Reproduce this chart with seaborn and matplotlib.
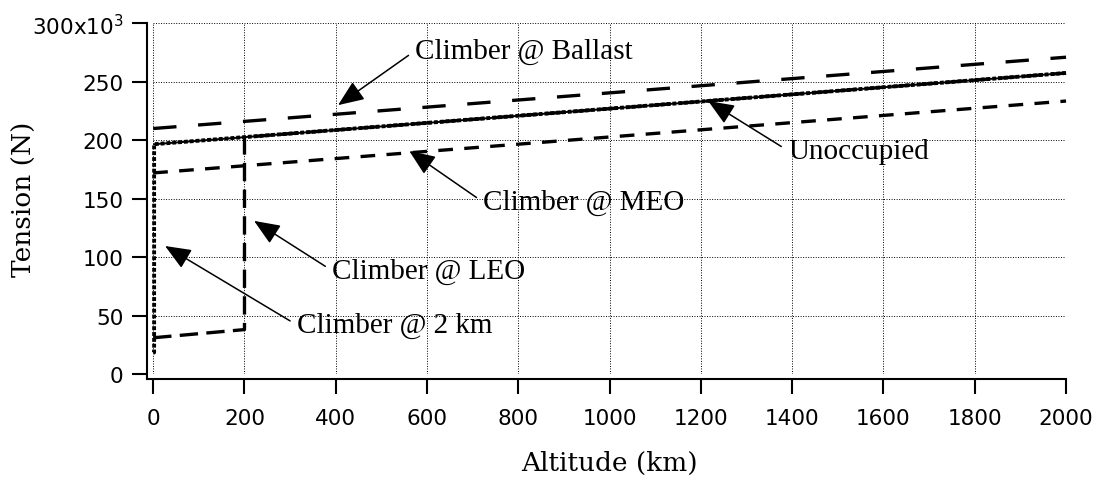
import matplotlib
matplotlib.use("Agg")
import matplotlib.pyplot as plt
import seaborn as sns

# Tether tension profiles: altitude (km) vs tension (x10^3 N)
unoccupied_alt = [0, 2000]
unoccupied_tension = [196.5, 257.5]

ballast_alt = [0, 2000]
ballast_tension = [210, 271]

meo_alt = [0, 2000]
meo_tension = [172, 233.5]

leo_alt = [0, 200, 200, 2000]
leo_tension = [31, 38, 202.6, 257.5]

km2_alt = [0, 2, 2, 2000]
km2_tension = [18, 18.5, 196.6, 257.5]

x_ticks = [0, 200, 400, 600, 800, 1000, 1200, 1400, 1600, 1800, 2000]
y_ticks = [0, 50, 100, 150, 200, 250, 300]
y_tick_labels = ["0", "50", "100", "150", "200", "250", r"300x10$^{3}$"]

sns.set_style("ticks")
plt.rcParams["font.family"] = ["DejaVu Sans"]
plt.rcParams["mathtext.fontset"] = "dejavusans"
plt.rcParams["text.color"] = "black"
plt.rcParams["axes.labelcolor"] = "black"
plt.rcParams["lines.scale_dashes"] = True

fig = plt.figure(figsize=(11.03, 4.89), dpi=100)
ax = fig.add_axes([0.1389, 0.2331, 0.9665 - 0.1389, 0.9503 - 0.2331])

LW = 2.4


def draw(alt, tension, lw, ls):
    n_before = len(ax.lines)
    sns.lineplot(x=alt, y=tension, ax=ax, color="black", linewidth=lw,
                 sort=False, estimator=None)
    for line in ax.lines[n_before:]:
        line.set_linewidth(lw)
        line.set_linestyle(ls)
        line.set_dash_capstyle("butt")
        line.set_solid_capstyle("butt")
        line.set_clip_on(False)
        line.set_zorder(3)


draw(ballast_alt, ballast_tension, LW, (0, (7.0, 6.5)))
draw(meo_alt, meo_tension, LW, (0, (4.4, 3.4)))
draw(leo_alt, leo_tension, LW, (0, (5.5, 2.5)))
draw(km2_alt, km2_tension, 2.8, (0, (1.0, 0.5)))
draw(unoccupied_alt, unoccupied_tension, 1.4, "-")

ax.set_xlim(0, 2000)
ax.set_ylim(0, 300)
ax.set_xticks(x_ticks)
ax.set_yticks(y_ticks)
ax.set_yticklabels(y_tick_labels)

ax.grid(True, color="black", linestyle=(0, (1, 1.6)), linewidth=0.7, zorder=0)
ax.set_axisbelow(True)

for side in ("top", "right"):
    ax.spines[side].set_visible(False)
ax.spines["left"].set_position(("outward", 4.5))
ax.spines["bottom"].set_position(("outward", 3.6))
ax.spines["left"].set_bounds(-4.3, 300)
ax.spines["bottom"].set_bounds(-14, 2000)
for side in ("left", "bottom"):
    ax.spines[side].set_linewidth(1.5)
    ax.spines[side].set_color("black")

ax.tick_params(axis="both", direction="out", length=11, width=1.5,
               color="black", labelsize=15.5, labelcolor="black")
ax.tick_params(axis="y", pad=6)
ax.tick_params(axis="x", pad=10)

label_font = dict(family=["DejaVu Serif"], size=19, color="black")
ax.set_xlabel("Altitude (km)", labelpad=16, **label_font)
ax.set_ylabel("Tension (N)", **label_font)
ax.yaxis.set_label_coords(-0.127, 0.5)

notes = [
    ("Climber @ Ballast", (405, 230), (574, 276.6)),
    ("Unoccupied", (1216, 233.5), (1391, 191)),
    ("Climber @ MEO", (561, 190.8), (723, 147)),
    ("Climber @ LEO", (221, 131), (392, 88.4)),
    ("Climber @ 2 km", (26, 109.5), (315, 41.9)),
]
for text, tip, pos in notes:
    ax.annotate(text, xy=tip, xytext=pos, ha="left", va="center",
                family=["Liberation Serif"], size=21, color="black",
                arrowprops=dict(arrowstyle="-|>,head_length=0.8,head_width=0.33",
                                color="black", lw=1.1, mutation_scale=20,
                                shrinkA=3, shrinkB=0, relpos=(0, 0.5)))

fig.savefig("out.png", dpi=100)
